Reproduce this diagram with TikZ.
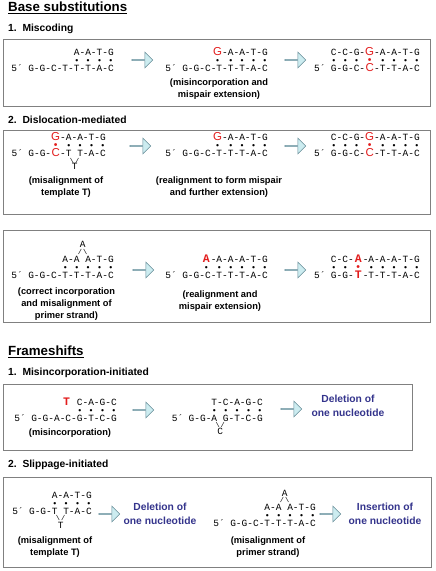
\documentclass[tikz,border=0pt]{standalone}
\usepackage{fontspec}
\setmainfont{Liberation Sans}
\newfontfamily\seqfont{Liberation Mono}
\usepackage{tikz}
\usetikzlibrary{positioning}
\usetikzlibrary{shapes.arrows}

\definecolor{mutred}{RGB}{226,28,28}
\definecolor{boxgray}{RGB}{128,128,128}
\definecolor{arrfill}{RGB}{204,236,240}
\definecolor{arrline}{RGB}{100,138,150}
\definecolor{resblue}{RGB}{52,52,140}

% wide slot for the enlarged (red) bases, so the rows stay lined up
\newcommand{\wide}[1]{\makebox[9pt]{#1}}
\newcommand{\dt}{\makebox[.6em]{\normalfont\fontsize{8.5}{8}\selectfont\textbullet}}
\newcommand{\mdot}{\wide{\normalfont\fontsize{10.5}{10}\selectfont\color{mutred}\textbullet}}
\newcommand{\msans}[1]{\wide{\normalfont\fontsize{11.5}{12}\selectfont\color{mutred}#1}}
\newcommand{\mmono}[1]{\wide{\fontsize{11.5}{12}\selectfont\bfseries\color{mutred}#1}}
\newcommand{\bsl}{\textbackslash}

\begin{document}
\begin{tikzpicture}[x=1pt,y=-1pt,
    seq/.style={font=\seqfont\fontsize{9.5}{10}\selectfont,inner sep=0pt,anchor=base east},
    kink/.style={font=\seqfont\fontsize{7}{7}\selectfont,inner sep=0pt},
    note/.style={font=\bfseries\fontsize{9.3}{12}\selectfont,align=center,inner sep=0pt,anchor=north},
    outcome/.style={font=\bfseries\fontsize{10.3}{13.5}\selectfont,align=center,inner sep=0pt,anchor=north,text=resblue},
    sechead/.style={font=\bfseries\fontsize{13.3}{14}\selectfont,inner sep=0pt,anchor=base west},
    subhead/.style={font=\bfseries\fontsize{10.3}{12}\selectfont,inner sep=0pt,anchor=base west},
    panel/.style={draw=boxgray,line width=.9pt},
    stepar/.style={single arrow,draw=arrline,fill=arrfill,line width=.6pt,inner sep=0pt,
      minimum height=21pt,minimum width=16pt,single arrow head extend=3.5pt}]
\useasboundingbox (0,0) rectangle (436,571);

% ---------------- base substitutions
\node[sechead] (h1) at (8,11) {Base substitutions};
\draw[line width=1.1pt] ([yshift=-2.2pt]h1.base west) -- ([yshift=-2.2pt]h1.base east);

\node[subhead] (m1) at (8,31.5) {1.~~Miscoding};
\draw[panel] (3,39) rectangle (430,106);
\node[seq] (s1at) at (114,55.5) {A-A-T-G};
\node[seq] (s1ad) at (114,63.5) {\dt{} \dt{} \dt{} \dt};
\node[seq] (s1as) at (114,71.5) {G-G-C-T-T-T-A-C};
\node[seq,left=5pt of s1as.base west,anchor=base east] (s1ap) {5´};
\node[seq] (s1bt) at (268,55.5) {\msans{G}-A-A-T-G};
\node[seq] (s1bd) at (268,63.5) {\wide{\dt} \dt{} \dt{} \dt{} \dt};
\node[seq] (s1bs) at (268,71.5) {G-G-C-T-T-T-A-C};
\node[seq,left=5pt of s1bs.base west,anchor=base east] (s1bp) {5´};
\node[note] (c1b) at (219,78.5) {(misincorporation and\\mispair extension)};
\node[seq] (s1ct) at (420,55.5) {C-C-G-\msans{G}-A-A-T-G};
\node[seq] (s1cd) at (420,63.5) {\dt{} \dt{} \dt{} \mdot{} \dt{} \dt{} \dt{} \dt};
\node[seq] (s1cs) at (420,71.5) {G-G-C-\msans{C}-T-T-A-C};
\node[seq,left=5pt of s1cs.base west,anchor=base east] (s1cp) {5´};

\node[subhead] (m2) at (8,123.5) {2.~~Dislocation-mediated};
\draw[panel] (3,130) rectangle (430,214);
\node[seq] (s2at) at (106,140) {\msans{G}-A-A-T-G};
\node[seq] (s2ad) at (106,148) {\mdot{} \dt{} \dt{} \dt{} \dt};
\node[seq] (s2as) at (106,156) {G-G-\msans{C}-T T-A-C};
\node[seq,left=5pt of s2as.base west,anchor=base east] (s2ap) {5´};
\node[kink] (k2a) at (74.65,160.5) {\bsl\hspace{1pt}/};
\node[seq,anchor=base] (x2a) at (74.65,169.5) {T};
\node[note] (c2a) at (66,176.6) {(misalignment of\\template T)};
\node[seq] (s2bt) at (268,140) {\msans{G}-A-A-T-G};
\node[seq] (s2bd) at (268,148) {\wide{\dt} \dt{} \dt{} \dt{} \dt};
\node[seq] (s2bs) at (268,156) {G-G-C-T-T-T-A-C};
\node[seq,left=5pt of s2bs.base west,anchor=base east] (s2bp) {5´};
\node[note] (c2b) at (219,176.6) {(realignment to form mispair\\and further extension)};
\node[seq] (s2ct) at (420,140) {C-C-G-\msans{G}-A-A-T-G};
\node[seq] (s2cd) at (420,148) {\dt{} \dt{} \dt{} \mdot{} \dt{} \dt{} \dt{} \dt};
\node[seq] (s2cs) at (420,156) {G-G-C-\msans{C}-T-T-A-C};
\node[seq,left=5pt of s2cs.base west,anchor=base east] (s2cp) {5´};

\draw[panel] (3,230) rectangle (430,322);
\node[seq,anchor=base] (x3a) at (82.65,247.5) {A};
\node[kink] (k3a) at (82.65,251.5) {/\hspace{1pt}\bsl};
\node[seq] (s3at) at (114,262) {A-A A-T-G};
\node[seq] (s3ad) at (114,270) {\dt{} \dt{} \dt{} \dt{} \dt};
\node[seq] (s3as) at (114,278) {G-G-C-T-T-T-A-C};
\node[seq,left=5pt of s3as.base west,anchor=base east] (s3ap) {5´};
\node[note] (c3a) at (66.5,287.6) {(correct incorporation\\and misalignment of\\primer strand)};
\node[seq] (s3bt) at (268,262) {\mmono{A}-A-A-A-T-G};
\node[seq] (s3bd) at (268,270) {\wide{\dt} \dt{} \dt{} \dt{} \dt{} \dt};
\node[seq] (s3bs) at (268,278) {G-G-C-T-T-T-A-C};
\node[seq,left=5pt of s3bs.base west,anchor=base east] (s3bp) {5´};
\node[note] (c3b) at (220,290.6) {(realignment and\\mispair extension)};
\node[seq] (s3ct) at (420,262) {C-C-\mmono{A}-A-A-A-T-G};
\node[seq] (s3cd) at (420,270) {\dt{} \dt{} \mdot{} \dt{} \dt{} \dt{} \dt{} \dt};
\node[seq] (s3cs) at (420,278) {G-G-\mmono{T}-T-T-T-A-C};
\node[seq,left=5pt of s3cs.base west,anchor=base east] (s3cp) {5´};

% ---------------- frameshifts
\node[sechead] (h2) at (8,355) {Frameshifts};
\draw[line width=1.1pt] ([yshift=-2.2pt]h2.base west) -- ([yshift=-2.2pt]h2.base east);

\node[subhead] (m3) at (8,375) {1.~~Misincorporation-initiated};
\draw[panel] (3,384) rectangle (412,450);
\node[seq] (s4at) at (117,405) {\mmono{T}~C-A-G-C};
\node[seq] (s4ad) at (117,413) {\dt{} \dt{} \dt{} \dt};
\node[seq] (s4as) at (117,421) {G-G-A-C-G-T-C-G};
\node[seq,left=5pt of s4as.base west,anchor=base east] (s4ap) {5´};
\node[note] (c4a) at (70,428.3) {(misincorporation)};
\node[seq] (s4bt) at (263,405) {T-C-A-G-C};
\node[seq] (s4bd) at (263,413) {\dt{} \dt{} \dt{} \dt{} \dt};
\node[seq] (s4bs) at (263,421) {G-G-A G-T-C-G};
\node[seq,left=5pt of s4bs.base west,anchor=base east] (s4bp) {5´};
\node[kink] (k4b) at (220.25,425) {\bsl\hspace{1pt}/};
\node[seq,anchor=base] (x4b) at (220.25,434.5) {C};
\node[outcome] (r4) at (348,395.2) {Deletion of\\one nucleotide};

\node[subhead] (m4) at (8,467) {2.~~Slippage-initiated};
\draw[panel] (3,477) rectangle (431,567);
\node[seq] (s5at) at (92,498) {A-A-T-G};
\node[seq] (s5ad) at (92,506) {\dt{} \dt{} \dt{} \dt};
\node[seq] (s5as) at (92,514) {G-G-T T-A-C};
\node[seq,left=5pt of s5as.base west,anchor=base east] (s5ap) {5´};
\node[kink] (k5a) at (60.65,518) {\bsl\hspace{1pt}/};
\node[seq,anchor=base] (x5a) at (60.65,528.5) {T};
\node[note] (c5a) at (55,536.6) {(misalignment of\\template T)};
\node[outcome] (r5a) at (160,503.2) {Deletion of\\one nucleotide};
\node[seq,anchor=base] (x5b) at (284.65,496) {A};
\node[kink] (k5b) at (284.65,500) {/\hspace{1pt}\bsl};
\node[seq] (s5bt) at (316,510) {A-A A-T-G};
\node[seq] (s5bd) at (316,518) {\dt{} \dt{} \dt{} \dt{} \dt};
\node[seq] (s5bs) at (316,526) {G-G-C-T-T-T-A-C};
\node[seq,left=5pt of s5bs.base west,anchor=base east] (s5bp) {5´};
\node[note] (c5b) at (268,536.6) {(misalignment of\\primer strand)};
\node[outcome] (r5b) at (385,503.2) {Insertion of\\one nucleotide};

% block arrows between the steps
\foreach \n/\x/\y in {a1a/142/60, a1b/295/60, a2a/140/146, a2b/295/146,
    a3a/143/270, a3b/295/270, a4a/143/410, a4b/291/409, a5a/109/514, a5b/330/514}
  \node[stepar] (\n) at (\x,\y) {};
\end{tikzpicture}
\end{document}
